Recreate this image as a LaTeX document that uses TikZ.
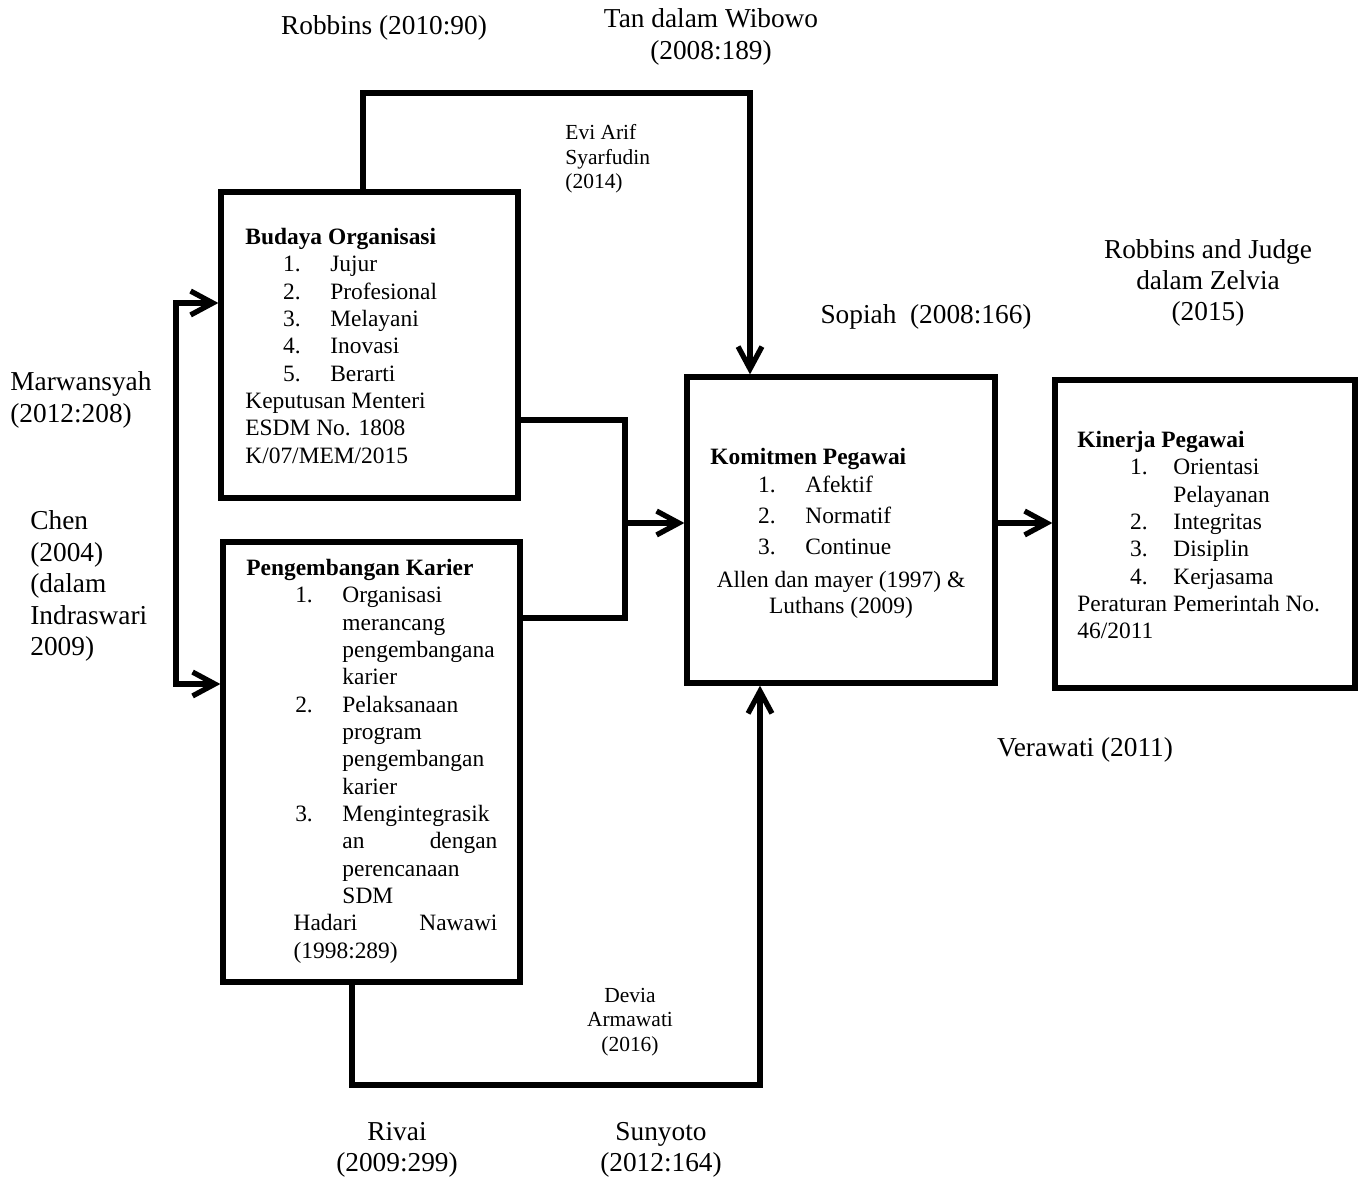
\documentclass[tikz,border=0pt]{standalone}
\usepackage{fontspec}
\setmainfont{Liberation Serif}
\usetikzlibrary{arrows.meta,fit}

\newcommand{\butir}[4]{\hspace*{#1}\makebox[#2][l]{#3}#4}

\begin{document}
\begin{tikzpicture}[x=0.018cm,y=-0.018cm,
  box/.style={draw,line width=2.7pt,inner sep=0pt},
  conn/.style={line width=2.7pt},
  tip/.style={-{Straight Barb[length=4mm,width=4.3mm]}},
  txt/.style={font=\fontsize{12}{14}\selectfont,align=left,inner sep=0pt,anchor=north west},
  lbl/.style={font=\fontsize{14}{16.1}\selectfont,align=center,inner sep=0pt},
  small/.style={font=\fontsize{11}{12.6}\selectfont,inner sep=0pt}]
  \useasboundingbox (0,0) rectangle (1360,1178);

  % boxes
  \node[box,fit={(221,192) (518,498)}] (budaya) {};
  \node[box,fit={(223,542) (520,982)}] (karier) {};
  \node[box,fit={(687,377) (995,683)}] (komit) {};
  \node[box,fit={(1055,380) (1355,688)}] (kinerja) {};

  % box texts
  \node[txt] (tbudaya) at (245,228) {\textbf{Budaya Organisasi}\\
    \butir{0.68cm}{0.85cm}{1.}{Jujur}\\
    \butir{0.68cm}{0.85cm}{2.}{Profesional}\\
    \butir{0.68cm}{0.85cm}{3.}{Melayani}\\
    \butir{0.68cm}{0.85cm}{4.}{Inovasi}\\
    \butir{0.68cm}{0.85cm}{5.}{Berarti}\\
    Keputusan Menteri\\
    ESDM No. 1808\\
    K/07/MEM/2015};
  \node[txt] (tkarier) at (246,559) {\textbf{Pengembangan Karier}\\
    \butir{0.88cm}{0.85cm}{1.}{Organisasi}\\
    \hspace*{1.73cm}merancang\\
    \hspace*{1.73cm}pengembangana\\
    \hspace*{1.73cm}karier\\
    \butir{0.88cm}{0.85cm}{2.}{Pelaksanaan}\\
    \hspace*{1.73cm}program\\
    \hspace*{1.73cm}pengembangan\\
    \hspace*{1.73cm}karier\\
    \butir{0.88cm}{0.85cm}{3.}{Mengintegrasik}\\
    \hspace*{1.73cm}\makebox[2.79cm][s]{an\hfill dengan}\\
    \hspace*{1.73cm}perencanaan\\
    \hspace*{1.73cm}SDM\\
    \hspace*{0.85cm}\makebox[3.67cm][s]{Hadari\hfill Nawawi}\\
    \hspace*{0.85cm}(1998:289)};
  \node[txt,font=\fontsize{12}{15.8}\selectfont] (tkomit) at (710,448) {\textbf{Komitmen Pegawai}\\[-1.5pt]
    \butir{0.86cm}{0.85cm}{1.}{Afektif}\\
    \butir{0.86cm}{0.85cm}{2.}{Normatif}\\
    \butir{0.86cm}{0.85cm}{3.}{Continue}};
  \node[txt,align=center,anchor=north,font=\fontsize{12}{13.3}\selectfont] (allen) at (841,571) {Allen dan mayer (1997) \&\\ Luthans (2009)};
  \node[txt] (tkinerja) at (1077,431) {\textbf{Kinerja Pegawai}\\
    \butir{0.95cm}{0.78cm}{1.}{Orientasi}\\
    \hspace*{1.73cm}Pelayanan\\
    \butir{0.95cm}{0.78cm}{2.}{Integritas}\\
    \butir{0.95cm}{0.78cm}{3.}{Disiplin}\\
    \butir{0.95cm}{0.78cm}{4.}{Kerjasama}\\
    Peraturan Pemerintah No.\\
    46/2011};

  % connectors
  \coordinate (t1) at (363,93);
  \coordinate (t2) at (750,93);
  \draw[conn,tip] (budaya.north -| t1) -- (t1) -- (t2) -- (komit.north -| t2);
  \coordinate (l1) at (176,303);
  \coordinate (l2) at (176,684);
  \draw[conn,{Straight Barb[length=4mm,width=4.3mm]}-{Straight Barb[length=4mm,width=4.3mm]}]
    (budaya.west |- l1) -- (l1) -- (l2) -- (karier.west |- l2);
  \coordinate (m1) at (625,420);
  \coordinate (m2) at (625,618);
  \coordinate (m3) at (625,523);
  \draw[conn] (budaya.east |- m1) -- (m1) -- (m2) -- (karier.east |- m2);
  \draw[conn,tip] (m3) -- (komit.west |- m3);
  \coordinate (b1) at (352,1085);
  \coordinate (b2) at (760,1085);
  \draw[conn,tip] (karier.south -| b1) -- (b1) -- (b2) -- (komit.south -| b2);
  \coordinate (k1) at (1020,523);
  \draw[conn,tip] (komit.east |- k1) -- (kinerja.west |- k1);

  % references
  \node[lbl] (robbins) at (384,28) {Robbins (2010:90)};
  \node[lbl] (tan) at (711,37) {Tan dalam Wibowo\\(2008:189)};
  \node[small,align=left,anchor=west] (evi) at (565,159) {Evi Arif\\Syarfudin\\(2014)};
  \node[lbl] (judge) at (1208,283) {Robbins and Judge\\dalam Zelvia\\(2015)};
  \node[lbl] (sopiah) at (926,317) {Sopiah\ \ (2008:166)};
  \node[lbl,align=left,anchor=west] (marwan) at (10,400) {Marwansyah\\(2012:208)};
  \node[lbl,align=left,anchor=west] (chen) at (30,586) {Chen\\(2004)\\(dalam\\Indraswari\\2009)};
  \node[lbl] (verawati) at (1085,750) {Verawati (2011)};
  \node[small,align=center] (devia) at (630,1022) {Devia\\Armawati\\(2016)};
  \node[lbl] (rivai) at (397,1150) {Rivai\\(2009:299)};
  \node[lbl] (sunyoto) at (661,1150) {Sunyoto\\(2012:164)};
\end{tikzpicture}
\end{document}
